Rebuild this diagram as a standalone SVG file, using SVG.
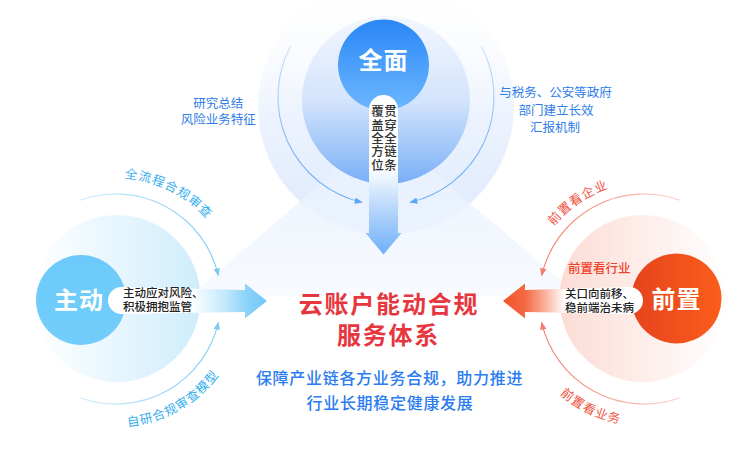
<svg xmlns="http://www.w3.org/2000/svg" width="750" height="460" viewBox="0 0 750 460">
<defs>
  <style>
    text { font-family: 'Noto Sans CJK SC', 'Noto Sans', sans-serif; }
    .big { font-size: 24px; font-weight: 700; fill: #ffffff; text-anchor: middle; letter-spacing: 1px; }
    .pill { font-size: 11.5px; font-weight: 500; fill: #222222; }
    .vt { font-size: 12.5px; font-weight: 500; fill: #333333; writing-mode: vertical-rl; text-orientation: upright; letter-spacing: 0.9px; }
    .side { font-size: 12.5px; fill: #2f7de8; text-anchor: middle; }
    .arcb { font-size: 12.5px; fill: #35aef0; letter-spacing: 1px; }
    .arcr { font-size: 12.5px; fill: #ee4f3a; letter-spacing: 1px; }
    .tag { font-size: 12.5px; font-weight: 500; fill: #f0452d; }
    .title { font-size: 24px; font-weight: 700; fill: #e6373f; text-anchor: middle; letter-spacing: 1.8px; }
    .sub { font-size: 16px; font-weight: 500; fill: #2a7cf0; text-anchor: middle; letter-spacing: 0.7px; }
    .cb { fill: none; stroke-width: 1.1; }
  </style>
  <linearGradient id="gTopCircle" x1="0" y1="0" x2="0" y2="1">
    <stop offset="0" stop-color="#2a87f6"/>
    <stop offset="1" stop-color="#6db7ff"/>
  </linearGradient>
  <linearGradient id="gTopHalo" x1="0" y1="0" x2="0" y2="1">
    <stop offset="0" stop-color="#f3f7fe"/>
    <stop offset="0.5" stop-color="#d4e4fc"/>
    <stop offset="0.85" stop-color="#94bff8"/>
    <stop offset="1" stop-color="#78adf5"/>
  </linearGradient>
  <linearGradient id="gTopOuter" x1="0" y1="0" x2="0" y2="1">
    <stop offset="0" stop-color="#ffffff" stop-opacity="0"/>
    <stop offset="0.5" stop-color="#eef4fe"/>
    <stop offset="1" stop-color="#dde9fc"/>
  </linearGradient>
  <linearGradient id="gWedge" gradientUnits="userSpaceOnUse" x1="0" y1="130" x2="0" y2="300">
    <stop offset="0" stop-color="#e4effd"/>
    <stop offset="1" stop-color="#f6f9ff"/>
  </linearGradient>
  <linearGradient id="gLeftHalo" x1="0" y1="0" x2="1" y2="0">
    <stop offset="0" stop-color="#ffffff"/>
    <stop offset="1" stop-color="#cfedfc"/>
  </linearGradient>
  <linearGradient id="gRightHalo" x1="0" y1="0" x2="1" y2="0">
    <stop offset="0" stop-color="#fcdcd5"/>
    <stop offset="1" stop-color="#ffffff"/>
  </linearGradient>
  <linearGradient id="gRightCircle" x1="0" y1="0" x2="1" y2="0">
    <stop offset="0" stop-color="#e5441d"/>
    <stop offset="1" stop-color="#fc5d1b"/>
  </linearGradient>
  <linearGradient id="gLeftCircle" x1="0" y1="0" x2="0" y2="1">
    <stop offset="0" stop-color="#6ccafa"/>
    <stop offset="1" stop-color="#72cdfa"/>
  </linearGradient>
  <linearGradient id="gTopArrow" gradientUnits="userSpaceOnUse" x1="0" y1="95" x2="0" y2="255">
    <stop offset="0" stop-color="#ffffff"/>
    <stop offset="0.45" stop-color="#ffffff"/>
    <stop offset="0.7" stop-color="#bad8fc"/>
    <stop offset="1" stop-color="#6eaff9"/>
  </linearGradient>
  <linearGradient id="gLeftArrow" gradientUnits="userSpaceOnUse" x1="108" y1="0" x2="267" y2="0">
    <stop offset="0" stop-color="#ffffff"/>
    <stop offset="0.52" stop-color="#ffffff"/>
    <stop offset="0.74" stop-color="#c2e8fc"/>
    <stop offset="0.86" stop-color="#8fd4f9"/>
    <stop offset="1" stop-color="#6fc7f8"/>
  </linearGradient>
  <linearGradient id="gRightArrow" gradientUnits="userSpaceOnUse" x1="503" y1="0" x2="643" y2="0">
    <stop offset="0" stop-color="#f2532a"/>
    <stop offset="0.16" stop-color="#f46a45"/>
    <stop offset="0.3" stop-color="#f9b19c"/>
    <stop offset="0.44" stop-color="#ffffff"/>
    <stop offset="1" stop-color="#ffffff"/>
  </linearGradient>
  <linearGradient id="gFadeLR" x1="0" y1="0" x2="1" y2="0">
    <stop offset="0" stop-color="#7cc9f4" stop-opacity="0.35"/>
    <stop offset="1" stop-color="#7cc9f4"/>
  </linearGradient>
  <linearGradient id="gFadeRL" x1="1" y1="0" x2="0" y2="0">
    <stop offset="0" stop-color="#f07e6a" stop-opacity="0.35"/>
    <stop offset="1" stop-color="#f07e6a"/>
  </linearGradient>
  <linearGradient id="gFadeTB" x1="0" y1="0" x2="0" y2="1">
    <stop offset="0" stop-color="#5ca6f6" stop-opacity="0.3"/>
    <stop offset="1" stop-color="#5ca6f6"/>
  </linearGradient>
  <marker id="mB" viewBox="0 0 8 8" refX="7" refY="4" markerWidth="8" markerHeight="8" markerUnits="userSpaceOnUse" orient="auto">
    <path d="M0,0.8 L8,4 L0,7.2 Z" fill="#7cc9f4"/>
  </marker>
  <marker id="mR" viewBox="0 0 8 8" refX="7" refY="4" markerWidth="8" markerHeight="8" markerUnits="userSpaceOnUse" orient="auto">
    <path d="M0,0.8 L8,4 L0,7.2 Z" fill="#f07e6a"/>
  </marker>
  <marker id="mT" viewBox="0 0 8 8" refX="7" refY="4" markerWidth="8" markerHeight="8" markerUnits="userSpaceOnUse" orient="auto">
    <path d="M0,0.8 L8,4 L0,7.2 Z" fill="#5ca6f6"/>
  </marker>
  <path id="pLT" d="M116,178 A121,121 0 0 1 237,299"/>
  <path id="pLB" d="M116,427 A128,128 0 0 0 244,299"/>
  <path id="pRT" d="M535,259.3 A116,116 0 0 1 644,183"/>
  <path id="pRB" d="M534,362.5 A127,127 0 0 0 644,426"/>
</defs>

<rect width="750" height="460" fill="#ffffff"/>

<g id="decor">
  <circle cx="386" cy="107" r="128" fill="url(#gTopOuter)"/>
  <polygon points="383,130 190,296 580,296" fill="url(#gWedge)" opacity="0.8"/>
</g>

<g id="node-left">
  <circle cx="117" cy="298.5" r="83.5" fill="url(#gLeftHalo)"/>
  <circle cx="81" cy="300" r="45" fill="url(#gLeftCircle)"/>
  <path d="M121.5,287 L245,290 L245,283.5 L267,301 L245,318.5 L245,312 L121.5,314 A13.5,13.5 0 0 1 121.5,287 Z" fill="url(#gLeftArrow)"/>
  <text class="big" x="79" y="309">主动</text>
  <text class="pill" x="123" y="297.4">主动应对风险、</text>
  <text class="pill" x="123" y="310.9">积极拥抱监管</text>
</g>

<g id="node-right">
  <circle cx="643" cy="298.5" r="83.5" fill="url(#gRightHalo)"/>
  <circle cx="676.5" cy="298.5" r="45" fill="url(#gRightCircle)"/>
  <path d="M629.5,287 L525,290 L525,283.5 L503,301 L525,318.5 L525,312 L629.5,314 A13.5,13.5 0 0 0 629.5,287 Z" fill="url(#gRightArrow)"/>
  <text class="big" x="676.5" y="307.5">前置</text>
  <text class="tag" x="568" y="273">前置看行业</text>
  <text class="pill" x="565" y="298.4">关口向前移、</text>
  <text class="pill" x="565" y="312.4">稳前端治未病</text>
</g>

<g id="node-top">
  <circle cx="386" cy="100" r="84" fill="url(#gTopHalo)"/>
  <circle cx="383.5" cy="65" r="45.5" fill="url(#gTopCircle)"/>
  <path d="M369,109.5 A14.5,14.5 0 0 1 398,109.5 L398,233 L401.5,233 L383.5,254.5 L365.5,233 L369,233 Z" fill="url(#gTopArrow)"/>
  <text class="big" x="383.5" y="69">全面</text>
  <text class="vt" x="377.5" y="105.2">覆盖全方位</text>
  <text class="vt" x="390.5" y="105.2">贯穿全链条</text>
</g>

<g id="node-center">
  <text class="title" x="389" y="313.3">云账户能动合规</text>
  <text class="title" x="388.5" y="344.1">服务体系</text>
  <text class="sub" x="389.5" y="384.4">保障产业链各方业务合规，助力推进</text>
  <text class="sub" x="390" y="409.4">行业长期稳定健康发展</text>
</g>

<g id="connectors">
  <path class="cb" d="M290.6,46.3 A108,108 0 0 0 361.7,202.2" stroke="url(#gFadeTB)" marker-end="url(#mT)"/>
  <path class="cb" d="M481.4,46.3 A108,108 0 0 1 410.3,202.2" stroke="url(#gFadeTB)" marker-end="url(#mT)"/>
  <path class="cb" d="M80.1,200.3 A105,105 0 0 1 218.3,275.4" stroke="url(#gFadeLR)" marker-end="url(#mB)"/>
  <path class="cb" d="M80.1,397.7 A105,105 0 0 0 218.3,322.6" stroke="url(#gFadeLR)" marker-end="url(#mB)"/>
  <path class="cb" d="M679.9,200.3 A105,105 0 0 0 541.7,275.4" stroke="url(#gFadeRL)" marker-end="url(#mR)"/>
  <path class="cb" d="M679.9,397.7 A105,105 0 0 1 541.7,322.6" stroke="url(#gFadeRL)" marker-end="url(#mR)"/>
</g>

<g id="labels">
  <text class="side" x="218.3" y="107.5">研究总结</text>
  <text class="side" x="218.3" y="124">风险业务特征</text>
  <text class="side" x="555.5" y="97">与税务、公安等政府</text>
  <text class="side" x="556" y="115">部门建立长效</text>
  <text class="side" x="555" y="131.5">汇报机制</text>
  <text class="arcb"><textPath href="#pLT" startOffset="8.5">全流程合规审查</textPath></text>
  <text class="arcb"><textPath href="#pLB" startOffset="11.8">自研合规审查模型</textPath></text>
  <text class="arcr"><textPath href="#pRT" startOffset="38.3">前置看企业</textPath></text>
  <text class="arcr"><textPath href="#pRB" startOffset="41">前置看业务</textPath></text>
</g>
</svg>
